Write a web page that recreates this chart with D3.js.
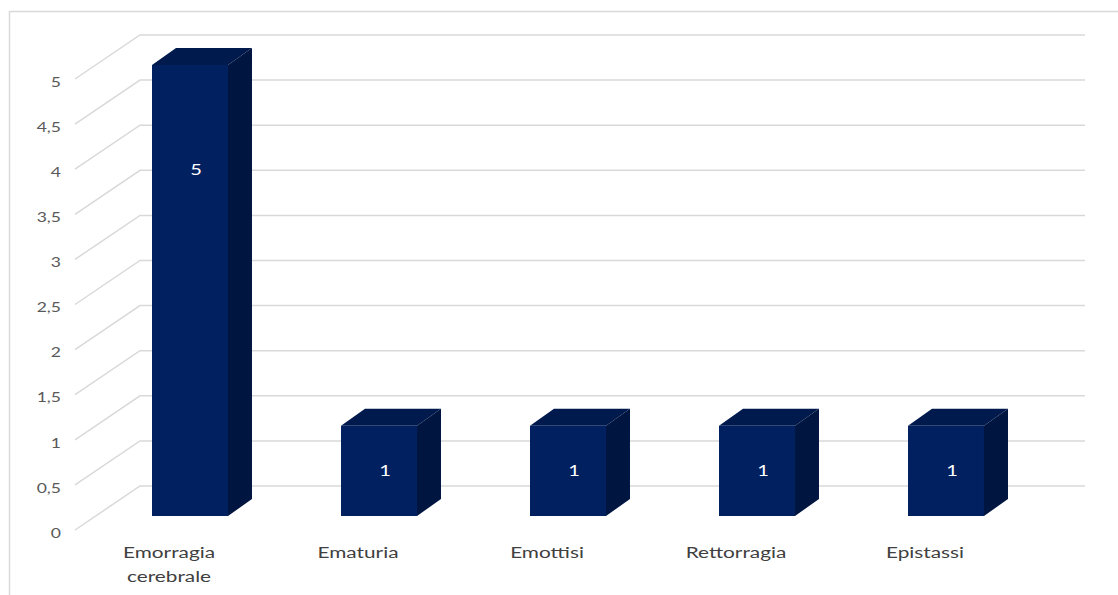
<!DOCTYPE html>
<html>
<head>
<meta charset="utf-8">
<script src="https://cdnjs.cloudflare.com/ajax/libs/d3/7.8.5/d3.min.js"></script>
<style>
  html, body { margin: 0; padding: 0; background: #fff; }
  svg { display: block; }
</style>
</head>
<body>
<svg id="chart" width="1118" height="595"></svg>
<script>
// Categories and values
const categories = ["Emorragia cerebrale", "Ematuria", "Emottisi", "Rettorragia", "Epistassi"];
const values = [5, 1, 1, 1, 1];
const yTicks = [0, 0.5, 1, 1.5, 2, 2.5, 3, 3.5, 4, 4.5, 5];

const W = 1118, H = 595;
const svg = d3.select("#chart");
const FONT = "Lato, 'Open Sans', sans-serif";
const TEXT_SX = 1.3;                   // horizontal stretch of the lettering

// 3D geometry: back wall plane and the floor depth offset
const wallLeft = 140, wallRight = 1085;
const depthX = -65, depthY = 44;      // from back wall to front edge of floor
const barShift = 30;                   // bars' front face sits this far in front of the wall (in y)
const barDX = 24, barDY = -17;         // bar depth

const y = d3.scaleLinear().domain([0, 5]).range([486, 35]);
const x = d3.scaleBand().domain(categories).range([95.5, 1040.5])
  .paddingInner(0.598).paddingOuter(0.299);

const fmt = v => String(v).replace(".", ",");

// places a stretched text at (px, py)
function stretchedText(parent, px, py) {
  return parent.append("g")
    .attr("transform", `translate(${px},${py}) scale(${TEXT_SX},1)`)
    .append("text");
}

// outer frame
svg.append("path")
  .attr("d", `M9.5,${H} V11.5 H${W}`)
  .attr("fill", "none").attr("stroke", "#d9d9d9").attr("stroke-width", 1.5);

// gridlines: back wall + side wall diagonal
const grid = svg.append("g").attr("stroke", "#d9d9d9").attr("stroke-width", 1.5).attr("fill", "none");
grid.selectAll("path").data(yTicks).join("path")
  .attr("d", d => `M${wallLeft + depthX},${y(d) + depthY} L${wallLeft},${y(d)} H${wallRight}`);

// axis tick labels on the front edge
const axisG = svg.append("g");
yTicks.forEach(d => {
  stretchedText(axisG, 61, y(d) + depthY + 3)
    .attr("dy", "0.35em")
    .attr("text-anchor", "end")
    .attr("font-family", FONT)
    .attr("font-size", 13.5)
    .attr("fill", "#595959")
    .text(fmt(d));
});

// bars
const bars = svg.append("g").selectAll("g").data(categories).join("g");
bars.each(function (c, i) {
  const g = d3.select(this);
  const x0 = x(c), x1 = x(c) + x.bandwidth();
  const yt = y(values[i]) + barShift, yb = y(0) + barShift;
  // top face
  g.append("path")
    .attr("d", `M${x0},${yt} L${x0 + barDX},${yt + barDY} H${x1 + barDX} L${x1},${yt} Z`)
    .attr("fill", "#001a4e");
  // side face
  g.append("path")
    .attr("d", `M${x1},${yt} L${x1 + barDX},${yt + barDY} V${yb + barDY} L${x1},${yb} Z`)
    .attr("fill", "#001540");
  // front face
  g.append("rect")
    .attr("x", x0).attr("y", yt)
    .attr("width", x.bandwidth()).attr("height", yb - yt)
    .attr("fill", "#002060");
  // value label
  const h = yb - yt;
  stretchedText(g, (x0 + x1) / 2 + 6, yt + Math.min(h / 2, 105))
    .attr("dy", "0.35em")
    .attr("text-anchor", "middle")
    .attr("font-family", FONT)
    .attr("font-size", 15.5)
    .attr("fill", "#ffffff")
    .text(fmt(values[i]));
});

// category labels, wrapped on spaces
const catG = svg.append("g");
categories.forEach(c => {
  const cx = x(c) + x.bandwidth() / 2 - 21;
  c.split(" ").forEach((w, k) => {
    stretchedText(catG, cx, 558 + k * 24)
      .attr("text-anchor", "middle")
      .attr("font-family", FONT)
      .attr("font-size", 16)
      .attr("fill", "#404040")
      .text(w);
  });
});
</script>
</body>
</html>
